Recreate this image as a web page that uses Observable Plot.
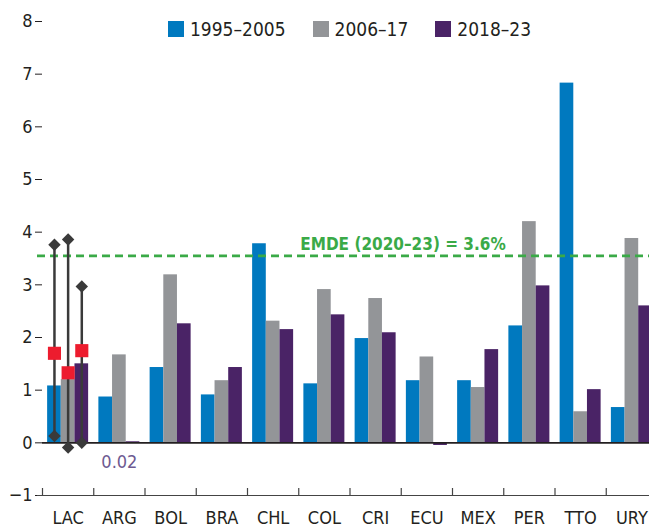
<!DOCTYPE html>
<html><head><meta charset="utf-8">
<script src="https://cdn.jsdelivr.net/npm/d3@7"></script>
<script src="https://cdn.jsdelivr.net/npm/@observablehq/plot@0.6"></script>
<style>
html,body{margin:0;padding:0;background:#fff;overflow:hidden;}
#wrap{position:relative;width:649px;height:528px;overflow:hidden;}
#legend{position:absolute;top:20px;left:168px;display:flex;gap:27px;font-family:"Liberation Sans Narrow","DejaVu Sans Condensed",Roboto,sans-serif;font-size:19px;color:#231f20;line-height:18px;}
#legend .item{display:flex;align-items:center;gap:6px;}
#legend .sw{width:16px;height:16px;display:inline-block;}
svg{overflow:hidden;}
</style></head><body><div id="wrap"></div>
<script>
const countries = ["LAC","ARG","BOL","BRA","CHL","COL","CRI","ECU","MEX","PER","TTO","URY"];
const periods = ["1995–2005","2006–17","2018–23"];
const colors = ["#0079bf","#939598","#4a2366"];
const v1995 = [1.08, 0.87, 1.43, 0.91, 3.78, 1.12, 1.98, 1.18, 1.18, 2.22, 6.83, 0.67];
const v2006 = [1.20, 1.67, 3.19, 1.18, 2.31, 2.91, 2.74, 1.63, 1.05, 4.20, 0.59, 3.88];
const v2018 = [1.50, 0.02, 2.26, 1.43, 2.15, 2.43, 2.09, -0.05, 1.77, 2.98, 1.01, 2.60];
const lacMean = [1.70, 1.33, 1.75];
const lacMax = [3.76, 3.86, 2.97];
const lacMin = [0.13, -0.09, 0.00];
const emdeValue = 3.55;
const emdeLabel = "EMDE (2020–23) = 3.6%";
const smallLabel = {country: "ARG", period: "2018–23", text: "0.02"};
const yTicks = [-1, 0, 1, 2, 3, 4, 5, 6, 7, 8];

const W = 649, H = 528, mL = 42, mR = -8, mT = 21, mB = 33;
const font = '"Liberation Sans Narrow","DejaVu Sans Condensed",Roboto,sans-serif';
const band = d3.scaleBand().domain(countries).range([mL, W - mR]).paddingInner(0.2).paddingOuter(0.1);
const bw = band.bandwidth(), step = band.step(), sub = bw / 3;

const series = [v1995, v2006, v2018];
const rows = series.flatMap((vals, k) => countries.map((c, i) => ({country: c, period: periods[k], k, value: vals[i]})));
const lac = periods.map((p, k) => ({country: "LAC", period: p, k, mean: lacMean[k], max: lacMax[k], min: lacMin[k]}));

const marks = [];
periods.forEach((p, k) => {
  marks.push(Plot.barY(rows.filter(d => d.k === k), {x: "country", y: "value", fill: colors[k], insetLeft: k * sub, insetRight: (2 - k) * sub}));
});
marks.push(Plot.ruleY([0], {stroke: "#231f20", strokeWidth: 1.6}));
marks.push(Plot.ruleY([-1], {stroke: "#444", strokeWidth: 1.2, insetLeft: -5}));
marks.push(Plot.ruleX(countries, {x: d => d, y1: -1, y2: -1, insetTop: -7, dx: -step / 2, stroke: "#444", strokeWidth: 1.2}));
marks.push(Plot.ruleY([emdeValue], {stroke: "#3aaa47", strokeWidth: 2.6, strokeDasharray: "8,5", insetLeft: -5}));
marks.push(Plot.text([{label: emdeLabel, value: emdeValue}], {text: "label", y: "value", lineAnchor: "bottom", dy: -6, dx: 53, fill: "#3aaa47", fontWeight: "bold", fontSize: 17}));
lac.forEach((d, k) => {
  const dx = (k - 1) * sub;
  marks.push(Plot.ruleX([d], {x: "country", y1: "min", y2: "max", dx, stroke: "#3a3a3a", strokeWidth: 2.5}));
  marks.push(Plot.dot([d], {x: "country", y: "max", dx, symbol: "diamond2", r: 5.6, fill: "#3a3a3a", stroke: "none"}));
  marks.push(Plot.dot([d], {x: "country", y: "min", dx, symbol: "diamond2", r: 5.6, fill: "#3a3a3a", stroke: "none"}));
  marks.push(Plot.dot([d], {x: "country", y: "mean", dx, symbol: "square", r: 7.4, fill: "#ed1c2e", stroke: "none"}));
});
marks.push(Plot.text([smallLabel], {x: "country", y: () => 0, text: "text", dy: 19, fill: "#6d5a91", fontSize: 18}));

const chart = Plot.plot({
  width: W, height: H,
  marginLeft: mL, marginRight: mR, marginTop: mT, marginBottom: mB,
  style: {fontFamily: font, fontSize: "18px", color: "#231f20", background: "#fff"},
  x: {domain: countries, range: [mL, W - mR], paddingInner: 0.2, paddingOuter: 0.1, round: false, tickSize: 0, tickPadding: 16, label: null},
  y: {domain: [-1, 8], ticks: yTicks, tickSize: 7, tickPadding: 3, label: null},
  marks
});
const wrap = document.getElementById("wrap");
wrap.appendChild(chart);

const legend = document.createElement("div");
legend.id = "legend";
periods.forEach((p, k) => {
  const it = document.createElement("div");
  it.className = "item";
  const sw = document.createElement("span");
  sw.className = "sw";
  sw.style.background = colors[k];
  const t = document.createElement("span");
  t.textContent = p;
  it.appendChild(sw); it.appendChild(t);
  legend.appendChild(it);
});
wrap.appendChild(legend);
</script></body></html>
